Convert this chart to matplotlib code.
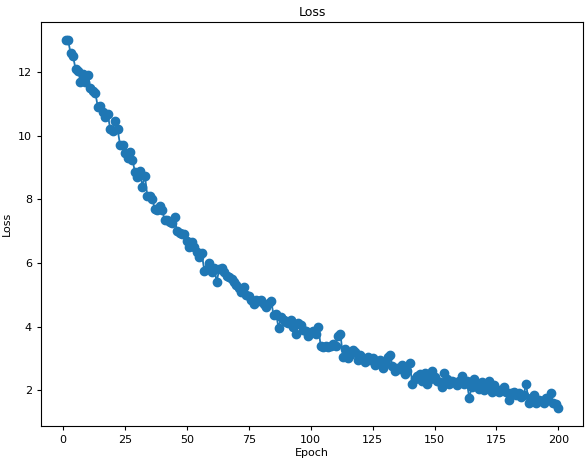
import numpy as np
import matplotlib
matplotlib.use("Agg")
import matplotlib.pyplot as plt

# loss per epoch
loss_1_50 = [13.0, 13.0, 12.6, 12.5, 12.1, 12.05, 11.7, 11.95, 11.7, 11.9,
             11.5, 11.4, 11.35, 10.9, 10.95, 10.75, 10.6, 10.7, 10.2, 10.15,
             10.45, 10.2, 9.7, 9.7, 9.45, 9.3, 9.5, 9.25, 8.85, 8.7,
             8.9, 8.4, 8.75, 8.1, 8.1, 8.0, 7.7, 7.65, 7.8, 7.65,
             7.35, 7.35, 7.3, 7.25, 7.45, 7.0, 6.95, 6.9, 6.9, 6.7]
loss_51_100 = [6.5, 6.65, 6.5, 6.35, 6.2, 6.3, 5.75, 5.8, 6.0, 5.7,
               5.85, 5.4, 5.8, 5.85, 5.7, 5.6, 5.55, 5.5, 5.4, 5.3,
               5.2, 5.1, 5.25, 5.0, 4.95, 4.85, 4.7, 4.85, 4.8, 4.85,
               4.7, 4.6, 4.75, 4.8, 4.35, 4.4, 3.95, 4.3, 4.2, 4.15,
               4.1, 4.2, 4.0, 3.75, 4.1, 4.05, 3.9, 3.85, 3.7, 3.8]
loss_101_150 = [3.85, 3.75, 4.0, 3.4, 3.35, 3.4, 3.35, 3.4, 3.45, 3.4,
                3.7, 3.75, 3.05, 3.3, 3.0, 3.1, 3.25, 3.2, 2.95, 3.1,
                3.0, 2.9, 3.05, 2.95, 3.0, 2.8, 2.85, 2.95, 2.7, 2.85,
                3.05, 3.1, 2.75, 2.6, 2.7, 2.65, 2.8, 2.5, 2.6, 2.85,
                2.2, 2.35, 2.45, 2.5, 2.3, 2.55, 2.2, 2.35, 2.6, 2.4]
loss_151_200 = [2.3, 2.25, 2.1, 2.55, 2.35, 2.2, 2.3, 2.25, 2.15, 2.3,
                2.45, 2.2, 2.3, 1.75, 2.1, 2.35, 2.2, 2.05, 2.25, 2.0,
                2.1, 2.3, 1.95, 2.15, 2.05, 1.95, 2.0, 2.1, 1.95, 1.7,
                1.9, 1.95, 1.85, 1.9, 1.8, 1.85, 2.2, 1.6, 1.75, 1.85,
                1.6, 1.7, 1.65, 1.6, 1.75, 1.7, 1.9, 1.6, 1.55, 1.45]

loss = loss_1_50 + loss_51_100 + loss_101_150 + loss_151_200
epochs = np.arange(1, len(loss) + 1)

plt.rcParams['font.size'] = 8
plt.rcParams['xtick.major.size'] = 3
plt.rcParams['ytick.major.size'] = 3

fig = plt.figure(figsize=(5.86, 4.62), dpi=100)
ax = fig.add_axes([41 / 586, 36 / 462, 542 / 586, 404 / 462])
ax.plot(epochs, loss, marker='o', markersize=6, linewidth=1.3)
ax.set_title('Loss', fontsize=9, pad=4)
ax.set_xlabel('Epoch', labelpad=2)
ax.set_ylabel('Loss', labelpad=4)
fig.savefig('out.png')
